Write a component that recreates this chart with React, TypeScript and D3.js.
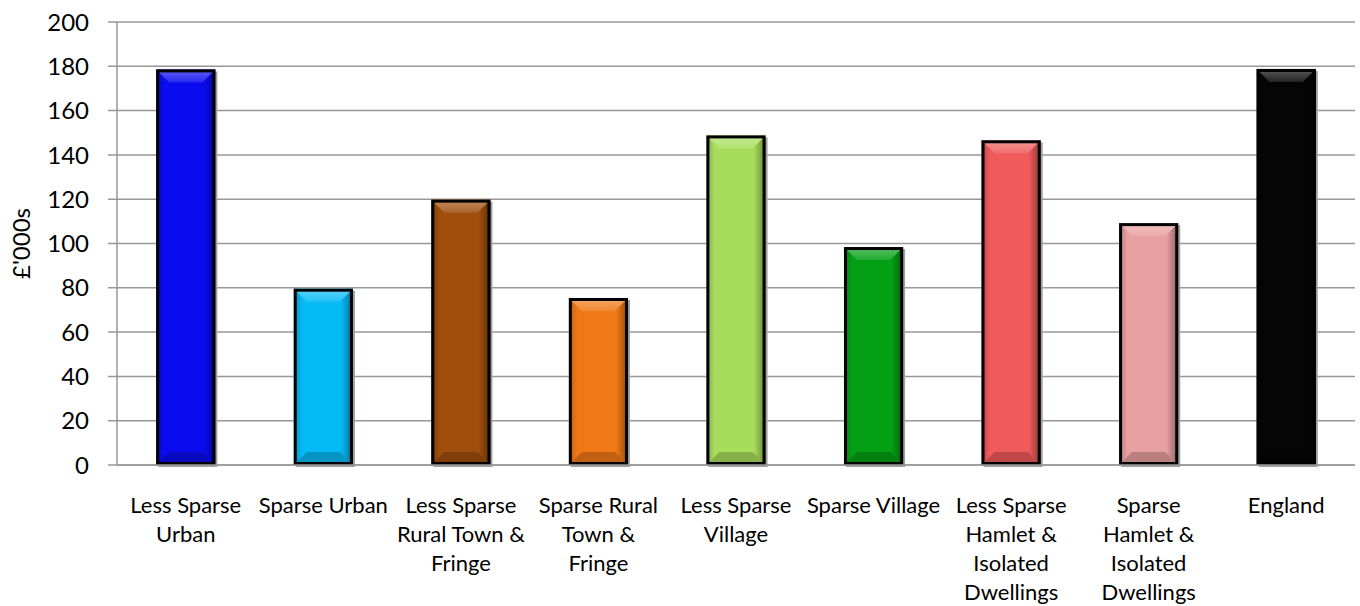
import { useEffect, useRef } from 'react';
import { scaleBand, scaleLinear, select, range, color, interpolateRgb } from 'd3';

const categories = [
  ['Less Sparse', 'Urban'],
  ['Sparse Urban'],
  ['Less Sparse', 'Rural Town &', 'Fringe'],
  ['Sparse Rural', 'Town &', 'Fringe'],
  ['Less Sparse', 'Village'],
  ['Sparse Village'],
  ['Less Sparse', 'Hamlet &', 'Isolated', 'Dwellings'],
  ['Sparse', 'Hamlet &', 'Isolated', 'Dwellings'],
  ['England'],
];
const values = [178.6, 79.6, 119.8, 75.4, 148.8, 98.4, 146.6, 109.2, 178.8];
const barColors = ['#0b0bef', '#05baf5', '#a04e0c', '#f07816', '#a8dd5c', '#03a014', '#f05a5a', '#e8a0a0', '#050505'];
const yTicks = range(0, 201, 20);

const FONT = 'Lato, "Open Sans", sans-serif';

export default function App() {
  const svgRef = useRef<SVGSVGElement>(null);

  useEffect(() => {
    const width = 1360;
    const height = 606;
    const margin = { top: 22, right: 5, bottom: 141, left: 117 };

    const svg = select(svgRef.current);
    svg.selectAll('*').remove();
    svg.attr('width', width).attr('height', height);

    const x = scaleBand<number>()
      .domain(categories.map((_, i) => i))
      .range([margin.left, width - margin.right])
      .paddingInner(0.57)
      .paddingOuter(0.285);

    const y = scaleLinear().domain([0, 200]).range([height - margin.bottom, margin.top]);

    // gridlines
    svg
      .append('g')
      .selectAll('line')
      .data(yTicks)
      .enter()
      .append('line')
      .attr('x1', margin.left - 9)
      .attr('x2', width - margin.right)
      .attr('y1', (d) => y(d))
      .attr('y2', (d) => y(d))
      .attr('stroke', '#989898')
      .attr('stroke-width', 1.5);

    // y axis line
    svg
      .append('line')
      .attr('x1', margin.left)
      .attr('x2', margin.left)
      .attr('y1', y(200))
      .attr('y2', y(0))
      .attr('stroke', '#989898')
      .attr('stroke-width', 1.5);

    // tick labels
    svg
      .append('g')
      .selectAll('text')
      .data(yTicks)
      .enter()
      .append('text')
      .attr('x', 89)
      .attr('y', (d) => y(d))
      .attr('dy', '0.36em')
      .attr('text-anchor', 'end')
      .attr('font-family', FONT)
      .attr('font-size', 24)
      .attr('fill', '#000')
      .text((d) => d);

    // y title
    svg
      .append('text')
      .attr('transform', `translate(30, ${(y(0) + y(200)) / 2}) rotate(-90)`)
      .attr('text-anchor', 'middle')
      .attr('font-family', FONT)
      .attr('font-size', 24)
      .text("£'000s");

    const defs = svg.append('defs');
    barColors.forEach((c, i) => {
      const g = defs
        .append('linearGradient')
        .attr('id', `side${i}`)
        .attr('x1', '0')
        .attr('x2', '1')
        .attr('y1', '0')
        .attr('y2', '0');
      const base = color(c)!;
      g.append('stop').attr('offset', '0%').attr('stop-color', base.darker(0.7).toString());
      g.append('stop').attr('offset', '14%').attr('stop-color', c);
      g.append('stop').attr('offset', '80%').attr('stop-color', c);
      g.append('stop').attr('offset', '100%').attr('stop-color', base.darker(1.4).toString());

      const t = defs
        .append('linearGradient')
        .attr('id', `top${i}`)
        .attr('x1', '0')
        .attr('x2', '0')
        .attr('y1', '0')
        .attr('y2', '1');
      t.append('stop').attr('offset', '0%').attr('stop-color', interpolateRgb(c, '#ffffff')(0.35));
      t.append('stop').attr('offset', '100%').attr('stop-color', interpolateRgb(c, '#ffffff')(0.12));
    });

    const bw = x.bandwidth();
    const bev = 13;

    const group = svg
      .selectAll('g.bar')
      .data(values)
      .enter()
      .append('g')
      .attr('class', 'bar');

    // shadow
    group
      .append('rect')
      .attr('x', (_, i) => x(i)! + 2)
      .attr('y', (d) => y(d) + 2)
      .attr('width', bw)
      .attr('height', (d) => y(0) - y(d))
      .attr('fill', '#a0a0a0');

    group
      .append('rect')
      .attr('x', (_, i) => x(i)!)
      .attr('y', (d) => y(d))
      .attr('width', bw)
      .attr('height', (d) => y(0) - y(d))
      .attr('fill', (_, i) => `url(#side${i})`);

    // top bevel
    group
      .append('polygon')
      .attr('points', (d, i) => {
        const x0 = x(i)!;
        const y0 = y(d);
        return `${x0},${y0} ${x0 + bw},${y0} ${x0 + bw - bev},${y0 + bev} ${x0 + bev},${y0 + bev}`;
      })
      .attr('fill', (_, i) => `url(#top${i})`);

    // bottom bevel
    group
      .append('polygon')
      .attr('points', (_, i) => {
        const x0 = x(i)!;
        const y0 = y(0);
        return `${x0},${y0} ${x0 + bw},${y0} ${x0 + bw - bev},${y0 - bev} ${x0 + bev},${y0 - bev}`;
      })
      .attr('fill', (_, i) => interpolateRgb(barColors[i], '#000000')(0.2));

    // border
    group
      .append('rect')
      .attr('x', (_, i) => x(i)! + 1.5)
      .attr('y', (d) => y(d) + 1.5)
      .attr('width', bw - 3)
      .attr('height', (d) => y(0) - y(d) - 3)
      .attr('fill', 'none')
      .attr('stroke', '#000')
      .attr('stroke-width', 3);

    // x axis line
    svg
      .append('line')
      .attr('x1', margin.left)
      .attr('x2', width - margin.right)
      .attr('y1', y(0))
      .attr('y2', y(0))
      .attr('stroke', '#989898')
      .attr('stroke-width', 1.5);

    // category labels
    const labels = svg
      .append('g')
      .selectAll('text')
      .data(categories)
      .enter()
      .append('text')
      .attr('x', (_, i) => x(i)! + bw / 2)
      .attr('y', 513)
      .attr('text-anchor', 'middle')
      .attr('font-family', FONT)
      .attr('font-size', 22)
      .attr('fill', '#000');

    labels
      .selectAll('tspan')
      .data((d) => d)
      .enter()
      .append('tspan')
      .attr('x', function () {
        return select(this.parentNode as SVGTextElement).attr('x');
      })
      .attr('dy', (_, j) => (j === 0 ? 0 : 29))
      .text((d) => d);
  }, []);

  return (
    <div style={{ position: 'absolute', left: 0, top: 0 }}>
      <svg ref={svgRef} style={{ display: 'block' }}></svg>
    </div>
  );
}
